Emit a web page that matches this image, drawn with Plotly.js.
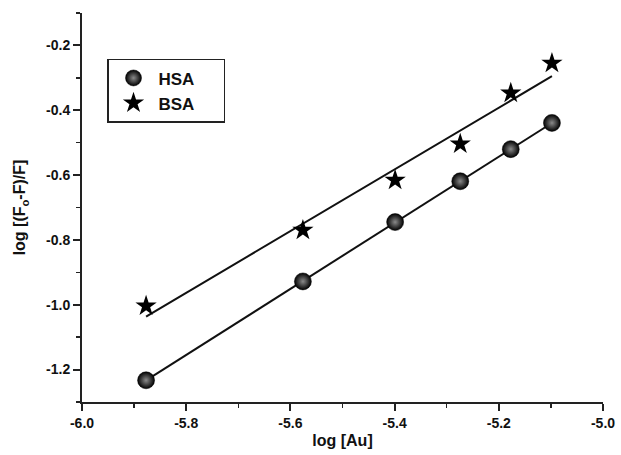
<!DOCTYPE html>
<html>
<head>
<meta charset="utf-8">
<script src="https://cdn.plot.ly/plotly-3.0.1.min.js"></script>
<style>html,body{margin:0;padding:0;background:#fff;}#chart{width:621px;height:455px;}</style>
</head>
<body>
<div id="chart"></div>
<script>
const logAu = [-5.877, -5.576, -5.399, -5.274, -5.177, -5.098];
const hsa = [-1.233, -0.928, -0.745, -0.619, -0.520, -0.439];
const bsa = [-1.004, -0.770, -0.616, -0.504, -0.347, -0.255];
const seriesNames = ['HSA', 'BSA'];
const xTickVals = [-6.0, -5.8, -5.6, -5.4, -5.2, -5.0];
const xTickText = ['-6.0', '-5.8', '-5.6', '-5.4', '-5.2', '-5.0'];
const yTickVals = [-1.2, -1.0, -0.8, -0.6, -0.4, -0.2];
const yTickText = ['-1.2', '-1.0', '-0.8', '-0.6', '-0.4', '-0.2'];

function fit(x, y) {
  const n = x.length;
  const mx = x.reduce((a, b) => a + b, 0) / n;
  const my = y.reduce((a, b) => a + b, 0) / n;
  let sxy = 0, sxx = 0;
  for (let i = 0; i < n; i++) { sxy += (x[i] - mx) * (y[i] - my); sxx += (x[i] - mx) ** 2; }
  const m = sxy / sxx, c = my - m * mx;
  const xs = [Math.min(...x), Math.max(...x)];
  return { x: xs, y: xs.map(v => m * v + c) };
}
const fh = fit(logAu, hsa), fb = fit(logAu, bsa);

const FAM = 'Liberation Sans, Arial, sans-serif';
const bold = (s) => ({ family: FAM, size: s, color: '#111', weight: 700 });
const b = (arr) => arr.map(t => '<b>' + t + '</b>');
const pad = '\u00a0\u00a0\u00a0\u00a0\u00a0';

const data = [
  { x: fh.x, y: fh.y, mode: 'lines', line: { color: '#111', width: 2 }, showlegend: false, hoverinfo: 'skip' },
  { x: fb.x, y: fb.y, mode: 'lines', line: { color: '#111', width: 2 }, showlegend: false, hoverinfo: 'skip' },
  { x: logAu, y: hsa, mode: 'markers', name: '<b>' + seriesNames[0] + '</b>' + pad,
    marker: { symbol: 'circle', size: 17, color: '#000', gradient: { type: 'radial', color: '#8a8a8a' }, line: { width: 0.5, color: '#000' } } },
  { x: logAu, y: bsa, mode: 'markers', name: '<b>' + seriesNames[1] + '</b>' + pad,
    marker: { symbol: 'star', size: 16, color: '#000', line: { width: 0 } } }
];

const layout = {
  width: 621, height: 455,
  margin: { l: 82, r: 18, t: 13, b: 53 },
  paper_bgcolor: '#fff', plot_bgcolor: '#fff',
  font: bold(14),
  showlegend: true,
  legend: {
    x: 0.048, y: 0.882, xanchor: 'left', yanchor: 'top',
    bordercolor: '#222', borderwidth: 1.5, bgcolor: '#fff',
    font: bold(17),
    itemwidth: 40,
    tracegroupgap: 4
  },
  xaxis: {
    range: [-6.0, -5.0], tickmode: 'array', tickvals: xTickVals, ticktext: b(xTickText),
    showgrid: false, zeroline: false,
    showline: true, linecolor: '#222', linewidth: 2,
    ticks: 'outside', ticklen: 7, tickwidth: 2, tickcolor: '#222',
    minor: { dtick: 0.1, tick0: -6.0, ticks: 'outside', ticklen: 4, tickwidth: 1.5, tickcolor: '#222', showgrid: false },
    tickfont: bold(14),
    title: { text: '<b>log [Au]</b>', font: bold(16), standoff: 5 }
  },
  yaxis: {
    range: [-1.3, -0.1], tickmode: 'array', tickvals: yTickVals, ticktext: b(yTickText),
    showgrid: false, zeroline: false,
    showline: true, linecolor: '#222', linewidth: 2,
    ticks: 'outside', ticklen: 7, tickwidth: 2, tickcolor: '#222',
    minor: { dtick: 0.1, tick0: -1.3, ticks: 'outside', ticklen: 4, tickwidth: 1.5, tickcolor: '#222', showgrid: false },
    tickfont: bold(14),
    title: { text: '<b>log [(F<sub>o</sub>-F)/F]</b>', font: bold(16), standoff: 16 }
  }
};

Plotly.newPlot('chart', data, layout, { displayModeBar: false, staticPlot: true });
</script>
</body>
</html>
